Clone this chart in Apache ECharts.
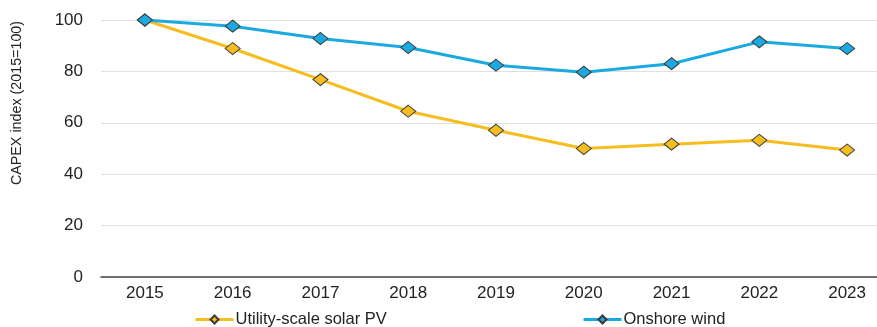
<!DOCTYPE html>
<html>
<head>
<meta charset="utf-8">
<script src="https://cdn.jsdelivr.net/npm/echarts@6/dist/echarts.min.js"></script>
<style>
  html, body { margin: 0; padding: 0; background: #fff; }
  #chart { width: 877px; height: 327px; }
</style>
</head>
<body>
<div id="chart"></div>
<script>
// Capital expenditure index, 2015 = 100
const years = ['2015', '2016', '2017', '2018', '2019', '2020', '2021', '2022', '2023'];
const solarPV = [100, 88.9, 76.8, 64.5, 57.1, 50.0, 51.7, 53.2, 49.4];
const onshoreWind = [100, 97.6, 92.8, 89.3, 82.4, 79.7, 83.0, 91.5, 88.9];
const yTicks = [0, 20, 40, 60, 80, 100];

const SOLAR_NAME = 'Utility-scale solar PV';
const WIND_NAME = 'Onshore wind';
const Y_TITLE = 'CAPEX index (2015=100)';
const FONT = '"Liberation Sans", Arial, sans-serif';

const chart = echarts.init(document.getElementById('chart'), null, { renderer: 'canvas' });

function lineSeries(name, data, color) {
  return {
    name: name,
    type: 'line',
    data: data,
    symbol: 'diamond',
    symbolSize: [15, 12],
    lineStyle: { color: color, width: 3 },
    itemStyle: { color: color, borderColor: '#3a3a3a', borderWidth: 1 },
    emphasis: { disabled: true },
    z: name === WIND_NAME ? 3 : 2
  };
}

const legendBase = {
  top: 306,
  itemWidth: 38,
  itemHeight: 10,
  itemGap: 0,
  lineStyle: { width: 3 },
  textStyle: { fontFamily: FONT, fontSize: 16.5, color: '#222', padding: [0, 0, 0, -3] },
  selectedMode: false
};

chart.setOption({
  animation: false,
  grid: { left: 101, top: 20, bottom: 50, width: 790, outerBoundsMode: 'none', containLabel: false },
  legend: [
    Object.assign({}, legendBase, { left: 189, data: [SOLAR_NAME] }),
    Object.assign({}, legendBase, { left: 577, data: [WIND_NAME] })
  ],
  graphic: [{
    type: 'text',
    x: 17,
    y: 103,
    rotation: Math.PI / 2,
    style: {
      text: Y_TITLE,
      fontFamily: FONT,
      fontSize: 14.3,
      fill: '#222',
      align: 'center',
      verticalAlign: 'middle'
    }
  }],
  xAxis: {
    type: 'category',
    data: years,
    boundaryGap: true,
    axisLine: { lineStyle: { color: '#444', width: 1.5 } },
    axisTick: { show: false },
    axisLabel: { fontFamily: FONT, fontSize: 17, color: '#222', margin: 8 }
  },
  yAxis: {
    type: 'value',
    min: yTicks[0],
    max: yTicks[yTicks.length - 1],
    interval: yTicks[1] - yTicks[0],
    axisLine: { show: false },
    axisTick: { show: false },
    axisLabel: { fontFamily: FONT, fontSize: 17, color: '#222', margin: 18 },
    splitLine: { lineStyle: { color: '#e0e0e0', width: 1 } }
  },
  series: [
    lineSeries(SOLAR_NAME, solarPV, '#f5bd1f'),
    lineSeries(WIND_NAME, onshoreWind, '#1ba9e1')
  ]
});
</script>
</body>
</html>
